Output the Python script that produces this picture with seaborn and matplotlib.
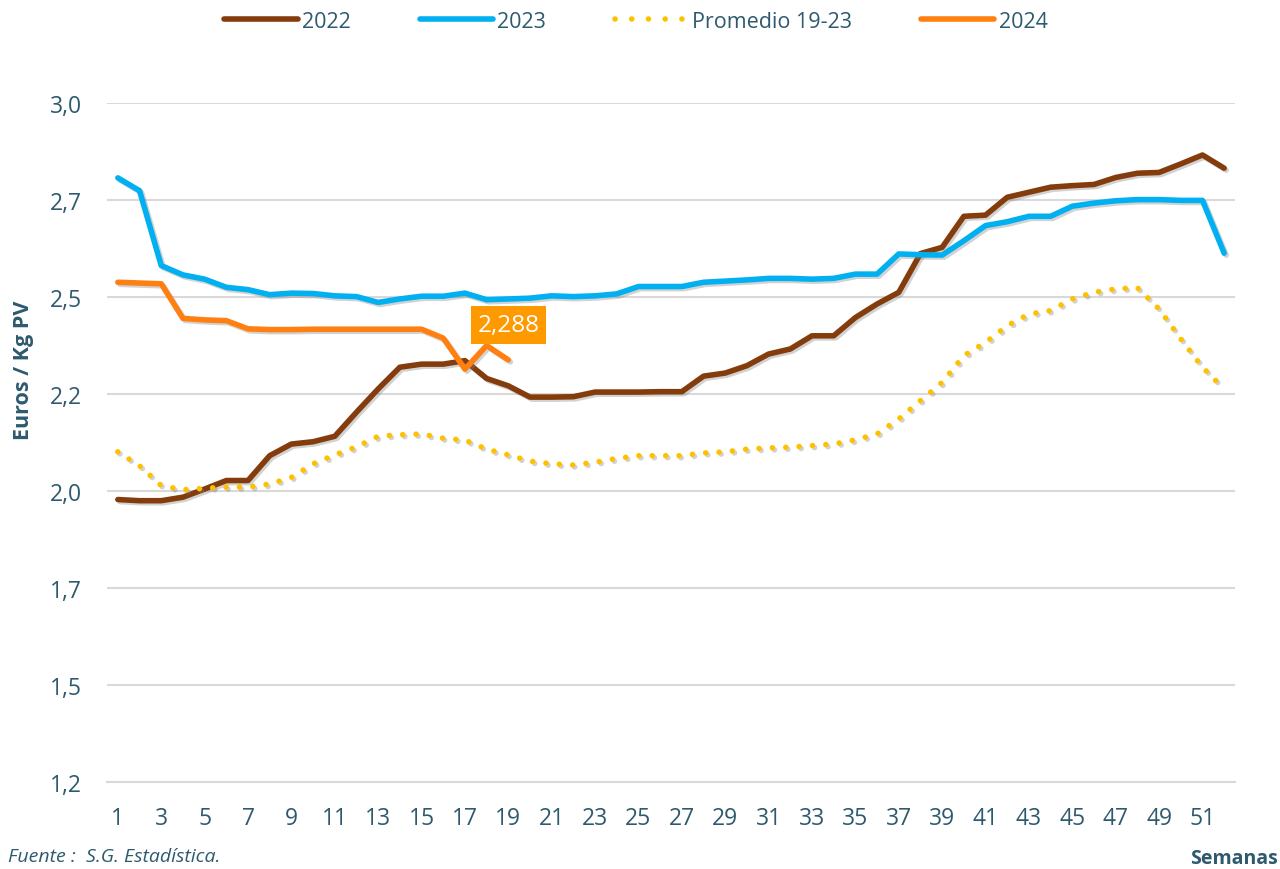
import numpy as np
import pandas as pd
import matplotlib
matplotlib.use('Agg')
import matplotlib.pyplot as plt
import matplotlib.patheffects as pe
from matplotlib.lines import Line2D
import seaborn as sns

# weekly prices (Euros / Kg PV)
weeks = list(range(1, 53))
p2022 = [1.928, 1.925, 1.925, 1.934, 1.955, 1.977, 1.977, 2.041, 2.071, 2.077,
         2.091, 2.153, 2.213, 2.269, 2.277, 2.277, 2.286, 2.240, 2.221, 2.192,
         2.192, 2.193, 2.205, 2.205, 2.205, 2.206, 2.206, 2.246, 2.254, 2.273,
         2.303, 2.316, 2.350, 2.350, 2.397, 2.432, 2.462, 2.562, 2.578, 2.658,
         2.661, 2.707, 2.720, 2.733, 2.737, 2.740, 2.758, 2.769, 2.771, 2.793,
         2.816, 2.782]
p2023 = [2.757, 2.724, 2.531, 2.507, 2.496, 2.475, 2.469, 2.456, 2.460, 2.459,
         2.453, 2.451, 2.436, 2.445, 2.452, 2.452, 2.460, 2.443, 2.445, 2.447,
         2.453, 2.451, 2.453, 2.458, 2.477, 2.477, 2.477, 2.488, 2.491, 2.494,
         2.498, 2.498, 2.496, 2.498, 2.509, 2.509, 2.561, 2.559, 2.558, 2.595,
         2.634, 2.644, 2.658, 2.658, 2.684, 2.692, 2.698, 2.701, 2.701, 2.699,
         2.699, 2.563]
promedio = [2.051, 2.015, 1.964, 1.953, 1.957, 1.960, 1.960, 1.968, 1.985, 2.020,
            2.043, 2.064, 2.091, 2.095, 2.097, 2.086, 2.081, 2.058, 2.043, 2.027,
            2.020, 2.017, 2.024, 2.034, 2.041, 2.041, 2.041, 2.048, 2.051, 2.058,
            2.061, 2.063, 2.067, 2.071, 2.082, 2.097, 2.136, 2.183, 2.230, 2.299,
            2.333, 2.376, 2.406, 2.415, 2.445, 2.462, 2.471, 2.474, 2.419, 2.342,
            2.269, 2.213]
p2024 = [2.488, 2.486, 2.484, 2.395, 2.391, 2.389, 2.368, 2.366, 2.366, 2.367,
         2.367, 2.367, 2.367, 2.367, 2.367, 2.344, 2.264, 2.325, 2.288]

series_names = ['2022', '2023', 'Promedio 19-23', '2024']
y_ticks = [1.2, 1.45, 1.7, 1.95, 2.2, 2.45, 2.7, 2.95]
y_tick_labels = ['1,2', '1,5', '1,7', '2,0', '2,2', '2,5', '2,7', '3,0']
last_label = '2,288'

sns.set_style('white')
plt.rcParams['font.family'] = ['Open Sans', 'DejaVu Sans']

text_col = '#2E5A6E'
colors = {'2022': '#843C0C', '2023': '#00B0F0', 'Promedio 19-23': '#FFC000', '2024': '#FF7F11'}

fig = plt.figure(figsize=(12.8, 8.7), dpi=100)
ax = fig.add_axes([107 / 1280, 1 - 783 / 870, 1128 / 1280, 679 / 870])

shadow = [pe.SimpleLineShadow(offset=(1.5, -1.5), shadow_color='#808080', alpha=0.35), pe.Normal()]

sns.lineplot(x=weeks, y=p2022, ax=ax, color=colors['2022'], lw=4, path_effects=shadow)
sns.lineplot(x=weeks, y=p2023, ax=ax, color=colors['2023'], lw=4, path_effects=shadow)
sns.lineplot(x=weeks, y=promedio, ax=ax, color=colors['Promedio 19-23'], lw=4,
             linestyle=(0, (0.01, 2.4)), dash_capstyle='round', path_effects=shadow)
sns.lineplot(x=weeks[:len(p2024)], y=p2024, ax=ax, color=colors['2024'], lw=4,
             solid_capstyle='round', path_effects=shadow)

# data label on last 2024 value
ax.annotate(last_label, xy=(len(p2024), p2024[-1]), xytext=(0, 25), textcoords='offset points',
            ha='center', va='center', color='white', fontsize=17.5,
            bbox=dict(boxstyle='square,pad=0.28', fc='#FF9900', ec='none'))

ax.set_xlim(0.5, 52.5)
ax.set_ylim(1.2, 2.95)
ax.set_yticks(y_ticks)
ax.set_yticklabels(y_tick_labels)
ax.set_xticks(weeks[::2])
ax.set_xticklabels([str(w) for w in weeks[::2]])
ax.set_xticks(np.arange(0.5, 53, 1), minor=True)
ax.tick_params(axis='x', which='major', length=0, pad=17, labelsize=16.5, labelcolor=text_col)
ax.tick_params(axis='x', which='minor', length=6, width=1, color='#D9D9D9', direction='out')
ax.tick_params(axis='y', length=0, pad=18, labelsize=16.5, labelcolor=text_col)

ax.grid(axis='y', color='#D9D9D9', lw=1.5)
ax.grid(axis='x', visible=False)
for s in ['top', 'right', 'left']:
    ax.spines[s].set_visible(False)
ax.spines['bottom'].set_color('#D9D9D9')
ax.spines['bottom'].set_linewidth(1.5)

ax.set_ylabel('Euros / Kg PV', fontsize=15.5, fontweight='bold', color=text_col)
ax.yaxis.set_label_coords(-73 / 1128, (783 - 370) / 679)
ax.set_xlabel('')

handles = [
    Line2D([], [], color=colors['2022'], lw=4, solid_capstyle='round'),
    Line2D([], [], color=colors['2023'], lw=4, solid_capstyle='round'),
    Line2D([], [], color=colors['Promedio 19-23'], lw=4, linestyle=(0, (0.01, 3.0)),
           dash_capstyle='round'),
    Line2D([], [], color=colors['2024'], lw=4, solid_capstyle='round'),
]
leg = fig.legend(handles, series_names, loc='center', bbox_to_anchor=(636 / 1280, 1 - 22 / 870),
                 ncol=4, frameon=False, fontsize=15.5, handlelength=3.4, handletextpad=0.2,
                 columnspacing=3.2)
for t in leg.get_texts():
    t.set_color(text_col)

fig.text(1278 / 1280, 1 - 859 / 870, 'Semanas', ha='right', va='center', fontsize=14,
         fontweight='bold', color=text_col)
fig.text(8 / 1280, 1 - 857 / 870, 'Fuente :  S.G. Estadística.', ha='left', va='center',
         fontsize=14, style='italic', color=text_col)

fig.savefig('out.png', dpi=100)
